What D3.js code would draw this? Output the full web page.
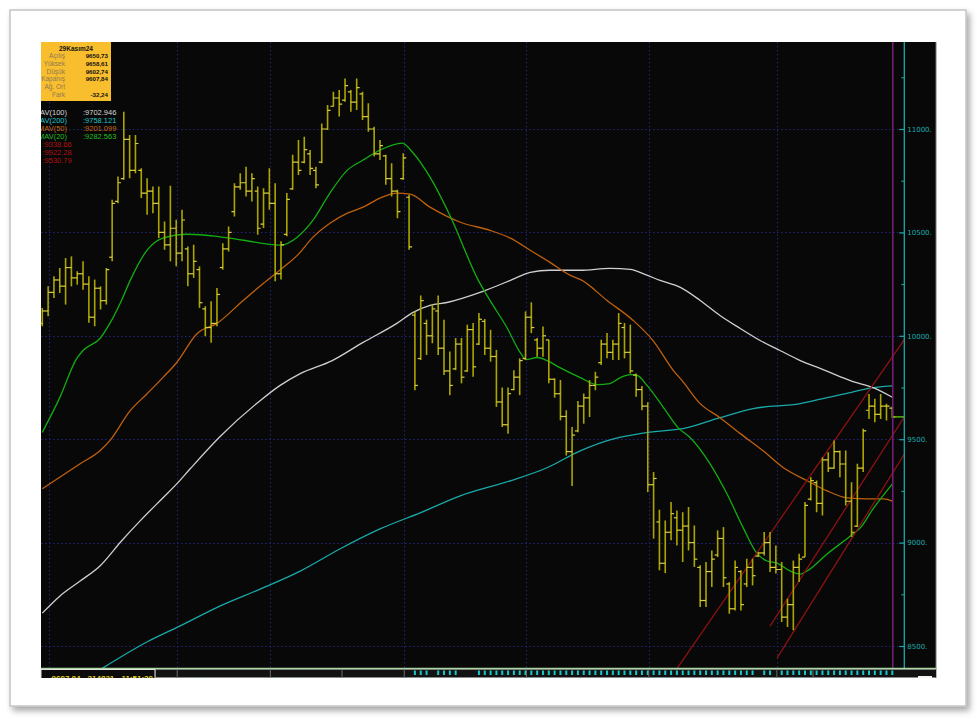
<!DOCTYPE html>
<html><head><meta charset="utf-8">
<script src="https://cdn.jsdelivr.net/npm/d3@7"></script>
<style>body{margin:0;background:#fff}svg{display:block}</style>
</head><body>
<svg id="c" width="977" height="719"></svg>
<script>
// ---- data ----
const opens = [10060,10120,10210,10270,10240,10330,10280,10300,10250,10090,
10230,10170,10380,10650,10760,10950,10800,10800,10690,10700,
10640,10500,10440,10520,10400,10420,10300,10320,10130,10040,
10060,10330,10420,10600,10720,10740,10700,10700,10540,10690,
10640,10300,10490,10710,10840,10840,10880,10800,10840,11000,
11110,11150,11140,11180,11130,11170,11060,11000,10880,10870,
10760,10700,10760,10670,10100,9890,10060,10000,10120,9940,
9830,9840,9960,9830,10030,9960,10070,9940,9900,9680,
9570,9740,9800,9890,10090,9980,9940,9980,9790,9720,
9610,9440,9540,9660,9700,9760,9870,9960,9920,9960,
10040,9920,9810,9740,9660,9280,9100,8900,9050,9120,
9060,9080,9000,8880,8720,8860,8940,9020,8800,8680,
8860,8800,8880,8935,8950,9000,8880,8870,8640,8700,
8880,8930,9210,9290,9190,9400,9360,9440,9380,9200,
9080,9360,9640,9660,9620,9660,9650.73];
const highs = [10135,10239,10288,10328,10376,10384,10312,10360,10288,10272,
10239,10328,10658,10770,11084,10971,10971,10810,10762,10722,
10722,10553,10725,10561,10609,10432,10440,10336,10143,10167,
10231,10448,10529,10738,10786,10818,10786,10722,10714,10810,
10738,10457,10690,10875,10947,10963,10899,10818,11027,11116,
11180,11188,11244,11188,11244,11180,11124,11011,10947,10875,
10834,10706,10883,10682,10118,10195,10078,10151,10195,10078,
9924,9989,9989,10054,10062,10110,10081,10029,9932,9750,
9750,9834,9891,10118,10162,9989,10045,9981,9794,9786,
9640,9559,9685,9721,9786,9826,9981,10013,9981,10110,
10062,10054,9818,9757,9679,9341,9159,9107,9196,9155,
9147,9172,9083,8890,8906,8962,9059,9075,8809,8914,
8866,8922,8922,8954,9051,9051,8986,8906,8729,8914,
8946,9196,9316,9300,9413,9437,9494,9445,9445,9292,
9381,9550,9719,9695,9719,9671,9658.61];
const lows = [10046,10095,10183,10207,10151,10239,10247,10223,10063,10046,
10127,10151,10360,10641,10754,10762,10786,10666,10585,10593,
10473,10416,10360,10336,10360,10239,10280,10135,9998,9966,
10046,10320,10408,10577,10706,10674,10649,10489,10521,10609,
10264,10272,10481,10706,10778,10834,10778,10714,10834,10995,
11108,11060,11132,11084,11092,11043,10987,10867,10850,10730,
10674,10569,10754,10416,9737,9883,9907,9964,9907,9810,
9713,9834,9770,9826,9802,9956,9907,9875,9656,9559,
9526,9737,9713,9883,10013,9899,9899,9770,9701,9591,
9421,9274,9534,9575,9607,9737,9859,9891,9883,9883,
9891,9818,9705,9640,9244,9019,8866,8853,9011,8986,
8906,8962,8882,8689,8689,8785,8930,8785,8656,8672,
8672,8785,8793,8930,8938,8858,8850,8616,8592,8576,
8809,8930,9204,9147,9131,9341,9357,9316,9180,9027,
9075,9341,9598,9582,9598,9590,9602.74];
const closes = [10120,10210,10270,10240,10330,10280,10300,10250,10090,10230,
10170,10320,10640,10740,10950,10800,10930,10690,10700,10640,
10500,10440,10520,10400,10560,10300,10360,10160,10040,10060,
10200,10420,10500,10720,10740,10700,10760,10520,10690,10640,
10300,10440,10660,10840,10800,10900,10810,10730,11000,11090,
11150,11120,11210,11130,11200,11060,11000,10880,10920,10760,
10700,10600,10860,10430,9760,10170,10000,10130,9940,9830,
9760,9960,9800,10030,9850,10080,9940,9900,9680,9570,
9720,9800,9880,10090,10040,9940,10000,9790,9720,9610,
9440,9520,9660,9700,9760,9800,9960,9920,9960,10060,
9920,9830,9740,9660,9280,9310,8900,9050,9140,9060,
9080,9000,8920,8720,8860,8920,9020,8830,8680,8880,
8700,8880,8840,8950,9000,8880,8870,8640,8700,8880,
8920,9180,9300,9190,9400,9360,9440,9380,9200,9050,
9360,9540,9660,9620,9660,9660,9607.84];

// moving averages, sampled at bar positions
const ma20Idx = [0,3,5.9,7,9.9,11.6,13.6,15.1,18,20.7,24.9,30,34.5,40.8,43.8,46.5,49.4,52.4,55.1,58,61.8,63.7,66.6,70,74.9,76.9,79.8,82.1,83.1,85,86.7,88.9,92.4,95.3,97.5,99.3,101,102.2,103.9,106.7,109.2,111.3,114.7,117.6,120.4,122.7,124.5,126.2,128.5,130.2,131.3,134.8,138.8,140.5,142.7,146];
const ma20Val = [9533,9701,9890,9929,9987,10060,10171,10268,10414,10472,10491,10481,10462,10438,10477,10559,10690,10801,10850,10898,10932,10884,10767,10583,10268,10171,10040,9919,9885,9895,9880,9846,9798,9764,9769,9798,9812,9808,9759,9653,9556,9507,9381,9236,9071,8950,8911,8901,8862,8848,8862,8945,9032,9071,9163,9282.563];
const ma50Idx = [0,6.5,9.9,11.6,15.1,18,20.7,23.1,26.6,30,34.5,38,41.4,43.8,46.5,49.4,52.4,55.1,58,60.9,63.2,66.6,71.8,76.9,80.4,83.8,87.2,90.7,92.7,97,101.5,104.9,108.4,109.9,113,116.4,119.9,123.8,127.3,131.4,134.8,138.3,141.7,144.5,146];
const ma50Val = [9260,9381,9444,9493,9638,9720,9798,9871,10011,10060,10171,10254,10331,10389,10477,10544,10593,10622,10666,10690,10685,10622,10549,10510,10472,10414,10355,10292,10268,10171,10074,9977,9832,9783,9672,9604,9527,9444,9362,9299,9250,9216,9211,9211,9201.099];
const ma100Idx = [0,3,6.5,9.9,13.6,16.8,20.7,23.1,25.4,30.5,37.4,40.8,44.3,49.8,55.1,60.9,63.7,66.6,69.5,75.2,80.4,83.8,87.2,92.4,97.5,101,103.5,106.1,109.6,113,116.4,119.9,123.3,126.7,130.2,133.6,137,138.8,142.7,146];
const ma100Val = [8659,8741,8814,8887,9008,9105,9216,9284,9357,9512,9686,9759,9817,9880,9968,10060,10113,10147,10161,10210,10268,10307,10317,10317,10326,10321,10297,10268,10234,10171,10098,10035,9977,9929,9880,9842,9803,9783,9749,9702.946];
const ma200Idx = [10.3,18.2,23.6,30.5,37.4,44.3,51.1,58,64.9,71.8,80.4,86.7,92.4,98.1,103.5,110.8,116.4,122.1,130.2,134.8,138.8,141.7,146];
const ma200Val = [8392,8523,8596,8693,8775,8862,8969,9066,9144,9226,9299,9362,9444,9502,9531,9556,9604,9648,9672,9701,9725,9745,9758.121];

// trend channel (bar index, price)
const channelStart = [[108.5,8370],[125.0,8596],[126.2,8441]];
const channelEnd   = [[148.2,9987],[148.1,9609],[148.1,9429]];

const priceTicks = [8500,9000,9500,10000,10500,11000];
const minorTicks = [8750,9250,9750,10250,10750,11250];
const monthStarts = [1,23,39,62,83,104,126];
const monthLabels = ["May 24","Haz 24","Tem 24","Ağu 24","Eyl 24","Eki 24","Kas 24"];
const markerRuns = [[64,66],[68,71],[75,122],[124,125],[127,146]];

const infoTitle = "29Kasım24";
const infoLabels = ["Açılış","Yüksek","Düşük","Kapanış","Ağ. Ort","Fark"];
const infoValues = ["9650,73","9658,61","9602,74","9607,84","","-32,24"];
const maNames = ["MAV(100)","MAV(200)","MAV(50)","MAV(20)"];
const maLast = [":9702.946",":9758.121",":9201.099",":9282.563"];
const chanLast = [":9338.66",":9922.28",":9530.79"];
const statusText = "9607,84 · 314821 · 11:51:30";

// ---- drawing ----
const svg = d3.select('#c');
const defs = svg.append('defs');
const f = defs.append('filter').attr('id','sh').attr('x','-3%').attr('y','-3%').attr('width','108%').attr('height','110%');
f.append('feDropShadow').attr('dx',3).attr('dy',4).attr('stdDeviation',3).attr('flood-color','#000').attr('flood-opacity',0.35);

svg.append('rect').attr('x',10).attr('y',10).attr('width',956).attr('height',696)
  .attr('fill','#fff').attr('stroke','#c4c4c4').attr('stroke-width',1.5).attr('filter','url(#sh)');

const L=41, R=936, T=42, B=668, AX=904.3;
svg.append('rect').attr('x',L).attr('y',T).attr('width',R-L).attr('height',B-T).attr('fill','#080808');
svg.append('line').attr('x1',R).attr('x2',R).attr('y1',T).attr('y2',B+10).attr('stroke','#777').attr('stroke-width',1);

defs.append('clipPath').attr('id','plot').append('rect').attr('x',L).attr('y',T).attr('width',AX-L).attr('height',B-T);
defs.append('clipPath').attr('id','chart').append('rect').attr('x',L).attr('y',T).attr('width',R-L).attr('height',B-T);

const x = d3.scaleLinear().domain([0,146]).range([42.3,892.3]);
const y = d3.scaleLinear().domain([8500,11000]).range([646,129]);

const plot = svg.append('g').attr('clip-path','url(#plot)');
// grid
plot.selectAll('.hg').data(priceTicks).join('line')
  .attr('x1',L).attr('x2',AX).attr('y1',d=>Math.round(y(d))+0.5).attr('y2',d=>Math.round(y(d))+0.5)
  .attr('stroke','#23237a').attr('stroke-dasharray','1.5,2.5');
plot.selectAll('.vg').data(monthStarts).join('line')
  .attr('x1',d=>Math.round(x(d)+0.8)+0.5).attr('x2',d=>Math.round(x(d)+0.8)+0.5).attr('y1',T).attr('y2',B)
  .attr('stroke','#23237a').attr('stroke-dasharray','1.5,2.5');

// moving averages
const line = d3.line().x(d=>x(d[0])).y(d=>y(d[1])).curve(d3.curveMonotoneX);
const mas = [
  [ma200Idx, ma200Val, '#1aa9a9'],
  [ma100Idx, ma100Val, '#cfcfcf'],
  [ma50Idx, ma50Val, '#c0600e'],
  [ma20Idx, ma20Val, '#12ad12']
];
mas.forEach(([ix, vs, col]) => {
  plot.append('path').attr('d', line(ix.map((v,i)=>[v, vs[i]])))
    .attr('fill','none').attr('stroke',col).attr('stroke-width',1.3);
});

// channel
channelStart.forEach((s,i)=>{
  const e = channelEnd[i];
  plot.append('line').attr('x1',x(s[0])).attr('y1',y(s[1])).attr('x2',x(e[0])).attr('y2',y(e[1]))
    .attr('stroke','#8c1212').attr('stroke-width',1.3);
});

// bars
const bars = plot.selectAll('.bar').data(d3.range(opens.length)).join('g');
bars.append('line').attr('x1',i=>x(i)).attr('x2',i=>x(i)).attr('y1',i=>y(highs[i])).attr('y2',i=>y(lows[i]))
  .attr('stroke','#aca500').attr('stroke-width',1.6);
bars.append('line').attr('x1',i=>x(i)-3).attr('x2',i=>x(i)).attr('y1',i=>y(opens[i])).attr('y2',i=>y(opens[i]))
  .attr('stroke','#d8d040').attr('stroke-width',1.2);
bars.append('line').attr('x1',i=>x(i)).attr('x2',i=>x(i)+3).attr('y1',i=>y(closes[i])).attr('y2',i=>y(closes[i]))
  .attr('stroke','#d8d040').attr('stroke-width',1.2);

// last price marker and current bar line
const lastI = opens.length-1;
svg.append('line').attr('x1',x(lastI)+0.5).attr('x2',x(lastI)+0.5).attr('y1',T).attr('y2',B)
  .attr('stroke','#7a1f7a').attr('stroke-width',1.5);
svg.append('line').attr('x1',x(lastI)+1).attr('x2',AX).attr('y1',y(closes[lastI])).attr('y2',y(closes[lastI]))
  .attr('stroke','#66cc00').attr('stroke-width',1.3);

// right axis
svg.append('line').attr('x1',AX).attr('x2',AX).attr('y1',T).attr('y2',B).attr('stroke','#1aa9a9').attr('stroke-width',1.3);
const ax = svg.append('g').attr('transform',`translate(${AX},0)`)
  .call(d3.axisRight(y).tickValues(priceTicks).tickSizeInner(-5).tickSizeOuter(0).tickPadding(3).tickFormat(d=>d+'.'));
ax.select('.domain').remove();
ax.selectAll('line').attr('stroke','#1aa9a9').attr('stroke-width',1.2);
ax.selectAll('text').attr('fill','#1ea8a8').attr('font-family','DejaVu Sans').attr('font-size','7px');
const ax2 = svg.append('g').attr('transform',`translate(${AX},0)`)
  .call(d3.axisRight(y).tickValues(minorTicks).tickSizeInner(-3).tickSizeOuter(0).tickFormat(''));
ax2.select('.domain').remove();
ax2.selectAll('line').attr('stroke','#1aa9a9');

// legend of MAs
const leg = svg.append('g').attr('clip-path','url(#chart)').attr('font-family','Liberation Sans').attr('font-size','7.5px');
const maCols = ['#d8d8d8','#20c2c2','#cc6a10','#20bf20'];
maNames.forEach((n,i)=>{
  leg.append('text').attr('x',L+26).attr('y',115+i*8).attr('text-anchor','end').attr('fill',maCols[i]).text(n);
  leg.append('text').attr('x',83).attr('y',115+i*8).attr('fill',maCols[i]).text(maLast[i]);
});
chanLast.forEach((t,i)=>{
  leg.append('text').attr('x',42.5).attr('y',147+i*8).attr('fill','#b01010').text(t);
});

// info box
defs.append('clipPath').attr('id','info').append('rect').attr('x',41).attr('y',42).attr('width',70).attr('height',59);
svg.append('rect').attr('x',41).attr('y',42).attr('width',70).attr('height',59).attr('fill','#f9be2e');
const info = svg.append('g').attr('clip-path','url(#info)').attr('font-family','Liberation Sans');
info.append('text').attr('x',76).attr('y',50.5).attr('text-anchor','middle').attr('font-size','6.5px').attr('font-weight','bold').attr('fill','#111').text(infoTitle);
infoLabels.forEach((t,i)=>{
  info.append('text').attr('x',65).attr('y',58+i*7.8).attr('text-anchor','end').attr('font-size','6.5px').attr('fill','#8e7a52').text(t);
  info.append('text').attr('x',108).attr('y',58+i*7.8).attr('text-anchor','end').attr('font-size','6.2px').attr('font-weight','bold').attr('fill','#111').text(infoValues[i]);
});

// bottom strip
svg.append('line').attr('x1',L).attr('x2',R).attr('y1',B+0.5).attr('y2',B+0.5).attr('stroke','#a9d7a0').attr('stroke-width',1.5);
svg.append('rect').attr('x',L).attr('y',B+1.5).attr('width',R-L).attr('height',8).attr('fill','#121212');
defs.append('clipPath').attr('id','strip').append('rect').attr('x',L).attr('y',B+1.5).attr('width',R-L).attr('height',8.5);
const strip = svg.append('g').attr('clip-path','url(#strip)');
const markers = [];
markerRuns.forEach(([a,b])=>{ for(let i=a;i<=b;i++) markers.push(i); });
strip.selectAll('.mk').data(markers).join('rect')
  .attr('x',i=>x(i)-1).attr('y',B+2.5).attr('width',2).attr('height',4.5).attr('fill','#18c8c8');
const seps = [155,342,813];
strip.selectAll('.sp').data(monthStarts.slice(1)).join('line')
  .attr('x1',d=>x(d)+1).attr('x2',d=>x(d)+1).attr('y1',B+1).attr('y2',B+10).attr('stroke','#6a6a6a');
strip.selectAll('.sp2').data(seps).join('line')
  .attr('x1',d=>d).attr('x2',d=>d).attr('y1',B+1).attr('y2',B+10).attr('stroke','#6a6a6a');
strip.selectAll('.ml').data(monthStarts.slice(1)).join('text')
  .attr('x',(d)=>x(d)+3).attr('y',B+13.5).attr('font-family','Liberation Sans').attr('font-size','8px')
  .attr('fill','#5d9b9b').text((d,i)=>monthLabels[i+1]);
defs.append('clipPath').attr('id','stat').append('rect').attr('x',L).attr('y',B+1.5).attr('width',114).attr('height',8.5);
svg.append('rect').attr('x',L).attr('y',B+1.5).attr('width',114).attr('height',10).attr('fill','#0b0b0b').attr('stroke','#e0e0e0').attr('stroke-width',1);
svg.append('g').attr('clip-path','url(#stat)').append('text').attr('x',153).attr('y',B+12.5).attr('text-anchor','end')
  .attr('font-family','Liberation Sans').attr('font-size','8px').attr('font-weight','bold').attr('fill','#e6d21a').text(statusText);
svg.append('rect').attr('x',918).attr('y',B+8).attr('width',14).attr('height',3).attr('fill','#f4f4f4');
// cover below strip
svg.append('rect').attr('x',L-1).attr('y',B+10).attr('width',R-L+2).attr('height',4).attr('fill','#fff');
</script>
</body></html>
